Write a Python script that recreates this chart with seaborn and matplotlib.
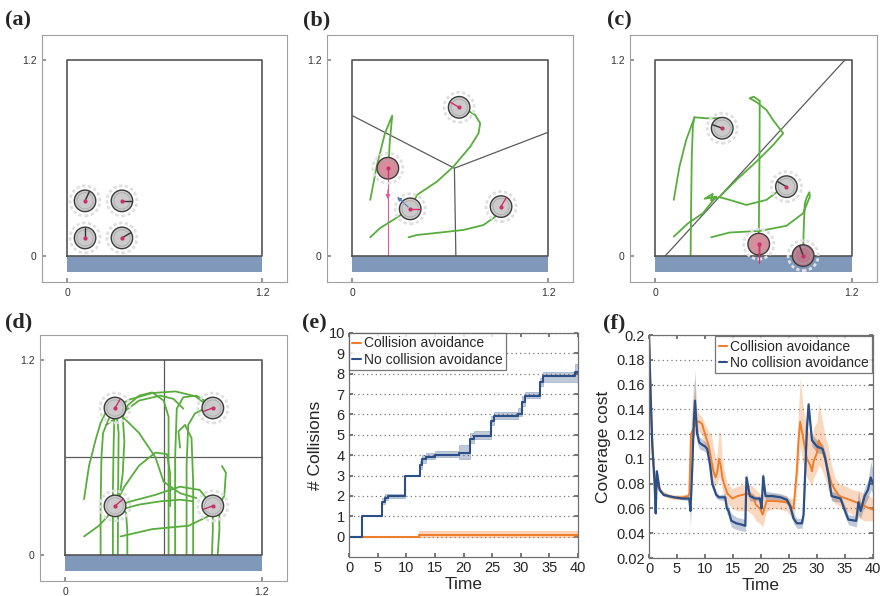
import numpy as np
import matplotlib
matplotlib.use('Agg')
import matplotlib.pyplot as plt
from matplotlib.patches import Circle, Rectangle
from matplotlib.lines import Line2D
import seaborn as sns

# ---------------- data ----------------
# arena robots: x, y, heading (deg), fill colour key
a_rx = [0.11, 0.337, 0.11, 0.337]
a_ry = [0.337, 0.337, 0.11, 0.11]
a_head = [65, 0, 90, 30]
a_fill = ['g', 'g', 'g', 'g']

b_rx = [0.655, 0.218, 0.355, 0.912]
b_ry = [0.91, 0.537, 0.288, 0.302]
b_head = [150, 270, 0, 60]
b_fill = ['g', 'p', 'g', 'g']

c_rx = [0.408, 0.80, 0.631, 0.902]
c_ry = [0.782, 0.424, 0.072, 0.002]
c_head = [160, 150, 270, 110]
c_fill = ['g', 'g', 'p', 'q']

d_rx = [0.303, 0.90, 0.303, 0.90]
d_ry = [0.904, 0.904, 0.302, 0.302]
d_head = [60, 200, 40, 200]
d_fill = ['g', 'g', 'g', 'g']

# partition lines
b_vor = [([0.0, 0.626, 1.2], [0.859, 0.537, 0.757]), ([0.626, 0.635], [0.537, 0.0])]
c_vor = [([0.06, 1.157], [0.0, 1.2])]
d_vor = [([0.6, 0.6], [0.0, 1.2]), ([0.0, 1.2], [0.6, 0.6])]

# trajectories
b_paths = [
    ([0.11, 0.15, 0.2, 0.245, 0.23, 0.22], [0.343, 0.55, 0.75, 0.86, 0.7, 0.537]),
    ([0.11, 0.17, 0.25, 0.355], [0.114, 0.17, 0.22, 0.288]),
    ([0.355, 0.396, 0.519, 0.62, 0.723, 0.774, 0.784, 0.753, 0.702, 0.655],
     [0.288, 0.373, 0.455, 0.547, 0.669, 0.751, 0.812, 0.863, 0.894, 0.91]),
    ([0.345, 0.396, 0.539, 0.682, 0.804, 0.876, 0.912],
     [0.114, 0.128, 0.143, 0.159, 0.189, 0.24, 0.302]),
]
c_paths = [
    ([0.112, 0.147, 0.188, 0.239, 0.31, 0.392, 0.433, 0.408], [0.343, 0.547, 0.71, 0.849, 0.843, 0.843, 0.822, 0.782]),
    ([0.215, 0.218, 0.222, 0.229, 0.239], [0.0, 0.3, 0.6, 0.8, 0.849]),
    ([0.112, 0.2, 0.29, 0.371, 0.3, 0.35, 0.34, 0.39, 0.453, 0.555, 0.678, 0.759, 0.80],
     [0.118, 0.2, 0.261, 0.363, 0.35, 0.38, 0.34, 0.36, 0.343, 0.312, 0.343, 0.404, 0.424]),
    ([0.39, 0.5, 0.62, 0.72, 0.78, 0.72, 0.678, 0.62, 0.576, 0.6, 0.637],
     [0.36, 0.47, 0.58, 0.68, 0.751, 0.83, 0.894, 0.94, 0.966, 0.975, 0.95]),
    ([0.637, 0.636, 0.634, 0.632, 0.631], [0.95, 0.7, 0.4, 0.2, 0.072]),
    ([0.341, 0.453, 0.637, 0.80, 0.902, 0.943, 0.94, 0.925, 0.912, 0.905, 0.902],
     [0.114, 0.143, 0.153, 0.184, 0.261, 0.363, 0.39, 0.36, 0.32, 0.15, 0.0]),
]
d_paths = [
    ([0.114, 0.144, 0.185, 0.215, 0.245, 0.303], [0.343, 0.547, 0.71, 0.812, 0.874, 0.904]),
    ([0.114, 0.205, 0.26, 0.303], [0.114, 0.18, 0.24, 0.302]),
    ([0.215, 0.215, 0.22, 0.23, 0.27, 0.3], [0.0, 0.3, 0.6, 0.75, 0.85, 0.9]),
    ([0.29, 0.29, 0.295, 0.3], [0.0, 0.4, 0.7, 0.88]),
    ([0.32, 0.322, 0.325, 0.31], [0.0, 0.4, 0.75, 0.9]),
    ([0.378, 0.378, 0.37, 0.33], [0.0, 0.15, 0.26, 0.3]),
    ([0.3, 0.388, 0.53, 0.672, 0.794, 0.875, 0.9], [0.9, 0.955, 0.996, 1.006, 0.976, 0.914, 0.904]),
    ([0.25, 0.33, 0.45, 0.58, 0.66, 0.72], [0.8, 0.86, 0.95, 0.98, 0.96, 0.9]),
    ([0.63, 0.63, 0.63, 0.6, 0.53, 0.45, 0.38, 0.35], [0.0, 0.5, 0.85, 0.95, 1.0, 0.98, 0.92, 0.85]),
    ([0.67, 0.67, 0.68, 0.72, 0.8, 0.88, 0.9], [0.0, 0.6, 0.9, 0.97, 0.98, 0.93, 0.9]),
    ([0.74, 0.74, 0.75, 0.79, 0.85, 0.9], [0.0, 0.55, 0.8, 0.87, 0.9, 0.9]),
    ([0.78, 0.78, 0.77, 0.73, 0.69, 0.7], [0.0, 0.45, 0.72, 0.8, 0.76, 0.66]),
    ([0.3, 0.36, 0.45, 0.55, 0.62, 0.64, 0.64], [0.3, 0.42, 0.55, 0.63, 0.62, 0.5, 0.3]),
    ([0.3, 0.4, 0.55, 0.7, 0.82, 0.9], [0.3, 0.33, 0.37, 0.42, 0.4, 0.3]),
    ([0.34, 0.45, 0.58, 0.7, 0.78], [0.28, 0.31, 0.33, 0.34, 0.33]),
    ([0.337, 0.53, 0.753, 0.875, 0.9], [0.114, 0.159, 0.18, 0.24, 0.3]),
    ([0.956, 0.98, 0.97, 0.92, 0.9], [0.547, 0.506, 0.363, 0.28, 0.3]),
    ([0.9, 0.9, 0.895], [0.3, 0.15, 0.0]),
    ([0.94, 0.94, 0.93], [0.3, 0.15, 0.0]),
    ([0.35, 0.45, 0.55, 0.6, 0.7, 0.8], [0.85, 0.75, 0.6, 0.45, 0.38, 0.35]),
    ([0.33, 0.35, 0.36, 0.35], [0.35, 0.5, 0.7, 0.85]),
]

# (e) collisions
e_t_ca = [0, 12.3, 40]
e_ca = [0, 0.1, 0.1]
e_ca_lo = [0, 0.0, 0.0]
e_ca_hi = [0, 0.3, 0.3]
e_t_no = [0, 2.3, 5.8, 6.3, 6.8, 9.8, 12.4, 12.8, 13.5, 15, 19.2, 21.2, 21.8, 24.8, 25.3,
          29.5, 30.3, 30.8, 33.3, 33.8, 39.5, 40]
e_no = [0, 1, 1.7, 1.9, 2.0, 3.0, 3.5, 3.8, 3.9, 4.0, 4.1, 4.8, 4.95, 5.7, 5.9, 6.0, 6.6, 6.9,
        7.6, 7.9, 8.1, 8.1]
e_no_lo = [0, 1, 1.6, 1.8, 1.9, 3.0, 3.3, 3.6, 3.8, 3.9, 3.8, 4.6, 4.8, 5.5, 5.8, 5.9, 6.4, 6.8,
           7.4, 7.6, 7.6, 7.7]
e_no_hi = [0, 1, 1.9, 2.1, 2.1, 3.0, 3.7, 4.0, 4.1, 4.2, 4.5, 5.1, 5.2, 5.9, 6.1, 6.3, 6.9, 7.1,
           7.8, 8.1, 8.5, 8.7]

# (f) coverage cost
f_t_ca = [0, 0.3, 0.6, 1.0, 1.5, 2.0, 2.5, 3.5, 4.5, 6.0, 7.0, 7.2, 7.5, 8.0, 8.5, 9.0, 9.5, 10.0,
          10.7, 11.1, 11.5, 11.9, 12.2, 12.5, 12.8, 13.1, 13.4, 14.0, 14.9, 15.8, 17.6, 18.5, 19.1,
          19.8, 20.3, 21.0, 22.5, 24.6, 25.2, 25.8, 26.1, 26.4, 26.7, 27.0, 27.6, 28.2, 28.8, 29.1,
          29.4, 30.0, 30.3, 30.8, 31.4, 32.0, 32.6, 33.2, 34.0, 35.2, 36.4, 37.6, 38.5, 39.4, 40]
f_ca = [0.2, 0.15, 0.11, 0.085, 0.078, 0.075, 0.072, 0.07, 0.069, 0.069, 0.07, 0.072, 0.12, 0.125,
        0.13, 0.13, 0.128, 0.12, 0.11, 0.1, 0.09, 0.085, 0.09, 0.1, 0.095, 0.085, 0.08, 0.072, 0.068,
        0.07, 0.072, 0.07, 0.063, 0.06, 0.055, 0.066, 0.066, 0.065, 0.062, 0.06, 0.075, 0.09, 0.115,
        0.13, 0.115, 0.1, 0.095, 0.09, 0.098, 0.105, 0.115, 0.11, 0.1, 0.09, 0.08, 0.075, 0.07,
        0.068, 0.066, 0.064, 0.062, 0.06, 0.059]
f_ca_lo = [0.2, 0.15, 0.108, 0.082, 0.076, 0.073, 0.07, 0.068, 0.067, 0.067, 0.068, 0.068, 0.11,
           0.118, 0.122, 0.122, 0.118, 0.11, 0.098, 0.088, 0.08, 0.078, 0.08, 0.085, 0.082, 0.075,
           0.07, 0.064, 0.06, 0.058, 0.058, 0.055, 0.05, 0.048, 0.045, 0.058, 0.06, 0.058, 0.054,
           0.05, 0.06, 0.075, 0.095, 0.11, 0.095, 0.085, 0.08, 0.078, 0.085, 0.09, 0.095, 0.092,
           0.085, 0.075, 0.068, 0.064, 0.062, 0.058, 0.055, 0.052, 0.05, 0.05, 0.05]
f_ca_hi = [0.2, 0.15, 0.112, 0.088, 0.08, 0.077, 0.074, 0.072, 0.071, 0.071, 0.072, 0.08, 0.13,
           0.165, 0.14, 0.136, 0.134, 0.128, 0.122, 0.12, 0.11, 0.1, 0.105, 0.123, 0.12, 0.1, 0.092,
           0.08, 0.076, 0.078, 0.08, 0.078, 0.075, 0.072, 0.07, 0.072, 0.072, 0.07, 0.068, 0.068,
           0.09, 0.11, 0.14, 0.165, 0.14, 0.125, 0.12, 0.115, 0.125, 0.13, 0.145, 0.135, 0.12, 0.11,
           0.095, 0.085, 0.08, 0.078, 0.075, 0.074, 0.072, 0.07, 0.068]
f_t_no = [0, 0.3, 0.6, 1.0, 1.2, 1.4, 1.9, 2.6, 3.5, 4.5, 6.0, 7.2, 7.4, 7.7, 8.0, 8.2, 8.6, 9.0,
          10.0, 10.4, 10.9, 11.3, 12.0, 12.5, 13.6, 13.9, 14.2, 14.7, 15.6, 16.5, 17.2, 17.4, 18.0,
          19.0, 19.8, 20.1, 20.4, 20.8, 22.0, 23.5, 24.6, 25.2, 25.8, 26.4, 27.3, 27.6, 27.9, 28.2,
          28.5, 29.1, 30.0, 31.0, 31.5, 32.1, 32.6, 34.2, 35.0, 35.6, 37.0, 37.4, 37.8, 38.5, 39.1,
          39.6, 40]
f_no = [0.2, 0.15, 0.11, 0.08, 0.056, 0.09, 0.075, 0.071, 0.07, 0.069, 0.068, 0.068, 0.058, 0.09,
        0.13, 0.147, 0.12, 0.113, 0.11, 0.108, 0.095, 0.08, 0.071, 0.069, 0.069, 0.06, 0.058, 0.05,
        0.048, 0.047, 0.046, 0.085, 0.07, 0.068, 0.068, 0.06, 0.086, 0.07, 0.07, 0.069, 0.067, 0.062,
        0.052, 0.048, 0.048, 0.055, 0.09, 0.125, 0.144, 0.115, 0.11, 0.108, 0.1, 0.085, 0.07, 0.068,
        0.058, 0.051, 0.05, 0.065, 0.058, 0.07, 0.075, 0.085, 0.08]
f_no_lo = [0.2, 0.15, 0.108, 0.078, 0.053, 0.085, 0.073, 0.07, 0.069, 0.068, 0.067, 0.066, 0.045,
           0.08, 0.12, 0.14, 0.113, 0.108, 0.106, 0.104, 0.09, 0.076, 0.068, 0.067, 0.066, 0.056,
           0.054, 0.045, 0.043, 0.042, 0.041, 0.078, 0.066, 0.066, 0.066, 0.056, 0.078, 0.066, 0.067,
           0.066, 0.064, 0.058, 0.048, 0.044, 0.044, 0.05, 0.08, 0.115, 0.135, 0.11, 0.105, 0.104,
           0.095, 0.08, 0.066, 0.065, 0.054, 0.047, 0.045, 0.055, 0.052, 0.063, 0.068, 0.075, 0.072]
f_no_hi = [0.2, 0.15, 0.112, 0.082, 0.06, 0.093, 0.077, 0.072, 0.071, 0.07, 0.069, 0.07, 0.065, 0.1,
           0.15, 0.172, 0.127, 0.118, 0.114, 0.112, 0.1, 0.084, 0.074, 0.071, 0.072, 0.065, 0.062,
           0.056, 0.053, 0.052, 0.051, 0.09, 0.074, 0.07, 0.07, 0.064, 0.09, 0.074, 0.073, 0.072,
           0.07, 0.066, 0.056, 0.052, 0.052, 0.06, 0.1, 0.135, 0.146, 0.12, 0.115, 0.112, 0.105,
           0.09, 0.074, 0.071, 0.062, 0.055, 0.054, 0.075, 0.064, 0.077, 0.082, 0.098, 0.09]

labels = ['Collision avoidance', 'No collision avoidance']
e_yticks = list(range(0, 11))
e_xticks = list(range(0, 41, 5))
f_yticks = [0.02, 0.04, 0.06, 0.08, 0.1, 0.12, 0.14, 0.16, 0.18, 0.2]

# ---------------- style ----------------
sns.set_theme(style='white')
plt.rcParams['font.family'] = ['Liberation Sans', 'DejaVu Sans']

ORANGE = '#ef7f2f'
BLUE = '#2b4f86'
GREEN = '#58ad3c'
BAR = '#8099bb'
FILLS = {'g': '#cbcbcb', 'p': '#d98c9c', 'q': '#b87a8c'}

W, H = 880, 596
fig = plt.figure(figsize=(8.8, 5.96), dpi=100)
fig.patch.set_facecolor('white')


def add_ax(x0, y0, x1, y1):
    return fig.add_axes([x0 / W, 1 - y1 / H, (x1 - x0) / W, (y1 - y0) / H])


def robot(ax, x, y, ang, fill, hc):
    ax.add_patch(Circle((x, y), 0.092, fill=False, ec='#e0e0e0', lw=2.0,
                        ls=(0, (1.2, 0.9)), zorder=4))
    ax.add_patch(Circle((x, y), 0.066, fc=FILLS[fill], ec='#3c3c3c', lw=1.0, zorder=5))
    ax.add_patch(Circle((x, y), 0.05, fill=False, ec='#a5a5a5', lw=0.5, zorder=5))
    th = np.deg2rad(ang)
    ax.plot([x, x + 0.062 * np.cos(th)], [y, y + 0.062 * np.sin(th)], color=hc, lw=1.0, zorder=6)
    ax.plot([x], [y], 'o', ms=2.0, color='#c8306a', zorder=7)


def arena(ax, rx, ry, head, fills, paths, vor, hc='#333333'):
    ax.set_xlim(-0.155, 1.353)
    ax.set_ylim(-0.16, 1.353)
    ax.add_patch(Rectangle((0, -0.1), 1.2, 0.1, fc=BAR, ec='none', zorder=1))
    for xs, ys in vor:
        ax.plot(xs, ys, color='#5a5a5a', lw=0.9, zorder=2)
    for xs, ys in paths:
        ax.plot(xs, ys, color=GREEN, lw=1.3, zorder=3, solid_capstyle='round',
                solid_joinstyle='round')
    ax.plot([0, 1.2, 1.2, 0, 0], [0, 0, 1.2, 1.2, 0], color='#555555', lw=1.2, zorder=3)
    for x, y, a, f in zip(rx, ry, head, fills):
        robot(ax, x, y, a, f, hc)
    ax.set_xticks([0, 1.2])
    ax.set_xticklabels(['0', '1.2'])
    ax.set_yticks([0, 1.2])
    ax.set_yticklabels(['0', '1.2'])
    ax.tick_params(direction='in', length=3, labelsize=7.5, labelcolor='#333333',
                   color='#888888', pad=4, left=True, bottom=True)
    for s in ax.spines.values():
        s.set_color('#a0a0a0')
        s.set_linewidth(0.8)


# (a)
ax_a = add_ax(42, 35, 287, 282)
arena(ax_a, a_rx, a_ry, a_head, a_fill, [], [])

# (b)
ax_b = add_ax(327, 35, 573, 282)
ax_b.plot([0.218, 0.218], [0.537, 0.0], color='#e8559a', lw=0.8, zorder=2)
ax_b.annotate('', xy=(0.218, 0.33), xytext=(0.218, 0.42),
              arrowprops=dict(arrowstyle='-|>', color='#e8559a', lw=0.8, mutation_scale=6), zorder=6)
ax_b.annotate('', xy=(0.263, 0.373), xytext=(0.355, 0.288),
              arrowprops=dict(arrowstyle='-|>', color='#5577bb', lw=0.8, ls='--', mutation_scale=6), zorder=6)
arena(ax_b, b_rx, b_ry, b_head, b_fill, b_paths, b_vor, hc='#d8306a')

# (c)
ax_c = add_ax(630, 35, 877, 282)
arena(ax_c, c_rx, c_ry, c_head, c_fill, c_paths, c_vor, hc='#333333')
ax_c.plot([0.631, 0.631], [0.072, -0.045], color='#d8306a', lw=0.9, zorder=8)

# (d)
ax_d = add_ax(40, 335, 287, 581)
arena(ax_d, d_rx, d_ry, d_head, d_fill, d_paths, d_vor, hc='#c8306a')

# (e)
ax_e = add_ax(349, 333, 578, 557)
ax_e.fill_between(e_t_ca, e_ca_lo, e_ca_hi, step='post', color=ORANGE, alpha=0.3, lw=0.6)
ax_e.fill_between(e_t_no, e_no_lo, e_no_hi, step='post', color=BLUE, alpha=0.3, lw=0.6)
sns.lineplot(x=e_t_ca, y=e_ca, ax=ax_e, color=ORANGE, lw=1.5, drawstyle='steps-post',
             label=labels[0])
sns.lineplot(x=e_t_no, y=e_no, ax=ax_e, color=BLUE, lw=1.5, drawstyle='steps-post',
             label=labels[1])
ax_e.set_xlim(0, 40)
ax_e.set_ylim(-1, 10)
ax_e.set_xticks(e_xticks)
ax_e.set_yticks(e_yticks)
ax_e.yaxis.grid(True, ls=(0, (1, 2.5)), color='#777777', lw=0.9)
ax_e.set_xlabel('Time', fontsize=12.5, labelpad=1)
ax_e.set_ylabel('# Collisions', fontsize=12.5, labelpad=4)

# (f)
ax_f = add_ax(649, 335, 873, 558)
ax_f.fill_between(f_t_ca, f_ca_lo, f_ca_hi, color=ORANGE, alpha=0.3, lw=0)
ax_f.fill_between(f_t_no, f_no_lo, f_no_hi, color=BLUE, alpha=0.3, lw=0)
sns.lineplot(x=f_t_ca, y=f_ca, ax=ax_f, color=ORANGE, lw=1.4, label=labels[0])
sns.lineplot(x=f_t_no, y=f_no, ax=ax_f, color=BLUE, lw=1.6, label=labels[1])
ax_f.set_xlim(0, 40)
ax_f.set_ylim(0.02, 0.2)
ax_f.set_xticks(e_xticks)
ax_f.set_yticks(f_yticks)
ax_f.set_yticklabels(['%g' % v for v in f_yticks])
ax_f.yaxis.grid(True, ls=(0, (1, 2.5)), color='#777777', lw=0.9)
ax_f.set_xlabel('Time', fontsize=12.5, labelpad=1)
ax_f.set_ylabel('Coverage cost', fontsize=12.5, labelpad=4)

for ax, loc, anchor in [(ax_e, 'upper left', (0, 1)), (ax_f, 'upper right', (0.995, 0.995))]:
    ax.tick_params(direction='in', length=3, labelsize=10.5, color='#666666', top=True,
                   right=True, left=True, bottom=True, pad=3)
    for s in ax.spines.values():
        s.set_color('#707070')
        s.set_linewidth(0.9)
    handles = [Line2D([], [], color=ORANGE, lw=1.5), Line2D([], [], color=BLUE, lw=1.5)]
    leg = ax.legend(handles, labels, loc=loc, bbox_to_anchor=anchor, borderaxespad=0,
                    fontsize=10, frameon=True, fancybox=False, handlelength=0.6,
                    handletextpad=0.2, borderpad=0.25, labelspacing=0.15)
    leg.get_frame().set_edgecolor('#555555')
    leg.get_frame().set_linewidth(0.9)

# panel labels
for txt, x, y in [('(a)', 5, 10), ('(b)', 303, 10), ('(c)', 607, 10),
                  ('(d)', 5, 312), ('(e)', 302, 313), ('(f)', 603, 313)]:
    fig.text(x / W, 1 - y / H, txt, fontsize=16, fontweight='bold',
             family=['Liberation Serif', 'DejaVu Serif'], va='top', ha='left')

fig.savefig('out.png', dpi=100, facecolor='white')
